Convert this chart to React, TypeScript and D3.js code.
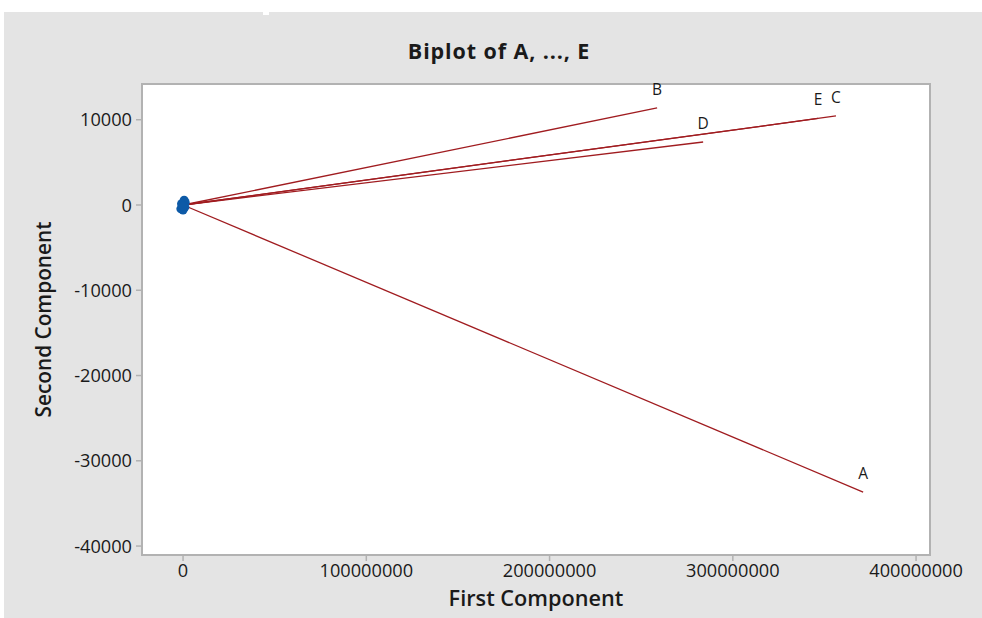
import { useEffect } from 'react';
import * as d3 from 'd3';

// loadings (first component, second component)
const varNames = ['A', 'B', 'C', 'D', 'E'];
const loadX = [371100000, 258700000, 356300000, 283800000, 346500000];
const loadY = [-33666, 11378, 10440, 7390, 10147];

// observation scores, all bunched at the origin
const scoreX = [-1200000, 1000000, 0, -800000, 1200000, 600000, -500000, 200000];
const scoreY = [-450, -250, -600, 150, 300, 550, 0, -150];

const xTicks = [0, 100000000, 200000000, 300000000, 400000000];
const yTicks = [10000, 0, -10000, -20000, -30000, -40000];

const W = 982;
const H = 618;
const plot = { left: 142, right: 930, top: 84, bottom: 555 };
const font = '"Open Sans", "Noto Sans", sans-serif';

export default function App() {
  useEffect(() => {
    document.body.style.margin = '0';
  }, []);

  const x = d3.scaleLinear().domain([-22400000, 407600000]).range([plot.left, plot.right]);
  const y = d3.scaleLinear().domain([-41050, 14190]).range([plot.bottom, plot.top]);

  const lineColor = '#a01c20';
  const axisColor = '#b2b2b2';

  return (
    <svg width={W} height={H} style={{ display: 'block', position: 'absolute', left: 0, top: 0 }}>
      <rect x={0} y={0} width={W} height={H} fill="#fff" />
      <rect x={4} y={12} width={W - 4} height={H - 12} fill="#e4e4e4" />
      <rect x={263} y={12} width={6} height={3} fill="#fff" />

      {/* title */}
      <text x={499} y={59} textAnchor="middle" fontFamily={font} fontWeight={700} fontSize={21.5}
        letterSpacing={0.9} fill="#1a1a1a">
        Biplot of A, ..., E
      </text>

      {/* data region */}
      <rect x={plot.left} y={plot.top} width={plot.right - plot.left} height={plot.bottom - plot.top}
        fill="#fff" stroke={axisColor} strokeWidth={2} />

      {/* y axis */}
      {yTicks.map(t => (
        <g key={t}>
          <line x1={plot.left - 6} x2={plot.left} y1={y(t)} y2={y(t)} stroke={axisColor} strokeWidth={1.5} />
          <text x={plot.left - 10} y={y(t)} dy="0.36em" textAnchor="end" fontFamily={font} fontSize={18.2} fill="#1a1a1a">
            {t}
          </text>
        </g>
      ))}

      {/* x axis */}
      {xTicks.map(t => (
        <g key={t}>
          <line x1={x(t)} x2={x(t)} y1={plot.bottom} y2={plot.bottom + 6} stroke={axisColor} strokeWidth={1.5} />
          <text x={x(t)} y={plot.bottom + 22} textAnchor="middle" fontFamily={font} fontSize={18.2} fill="#1a1a1a">
            {t}
          </text>
        </g>
      ))}

      <text x={(plot.left + plot.right) / 2} y={606} textAnchor="middle" fontFamily={font} fontWeight={600} fontSize={21.7} fill="#1a1a1a">
        First Component
      </text>
      <text transform={`translate(51,${(plot.top + plot.bottom) / 2}) rotate(-90)`} textAnchor="middle"
        fontFamily={font} fontWeight={600} fontSize={20.8} fill="#1a1a1a">
        Second Component
      </text>

      {/* loading vectors */}
      {varNames.map((n, i) => (
        <g key={n}>
          <line x1={x(0)} y1={y(0)} x2={x(loadX[i])} y2={y(loadY[i])} stroke={lineColor} strokeWidth={1.3} />
          <text x={x(loadX[i])} y={y(loadY[i]) - 13} textAnchor="middle" fontFamily={font} fontSize={15.5} fill="#1a1a1a">
            {n}
          </text>
        </g>
      ))}

      {/* scores */}
      {scoreX.map((sx, i) => (
        <circle key={i} cx={x(sx)} cy={y(scoreY[i])} r={4.5} fill="#0d5aa7" />
      ))}
    </svg>
  );
}
